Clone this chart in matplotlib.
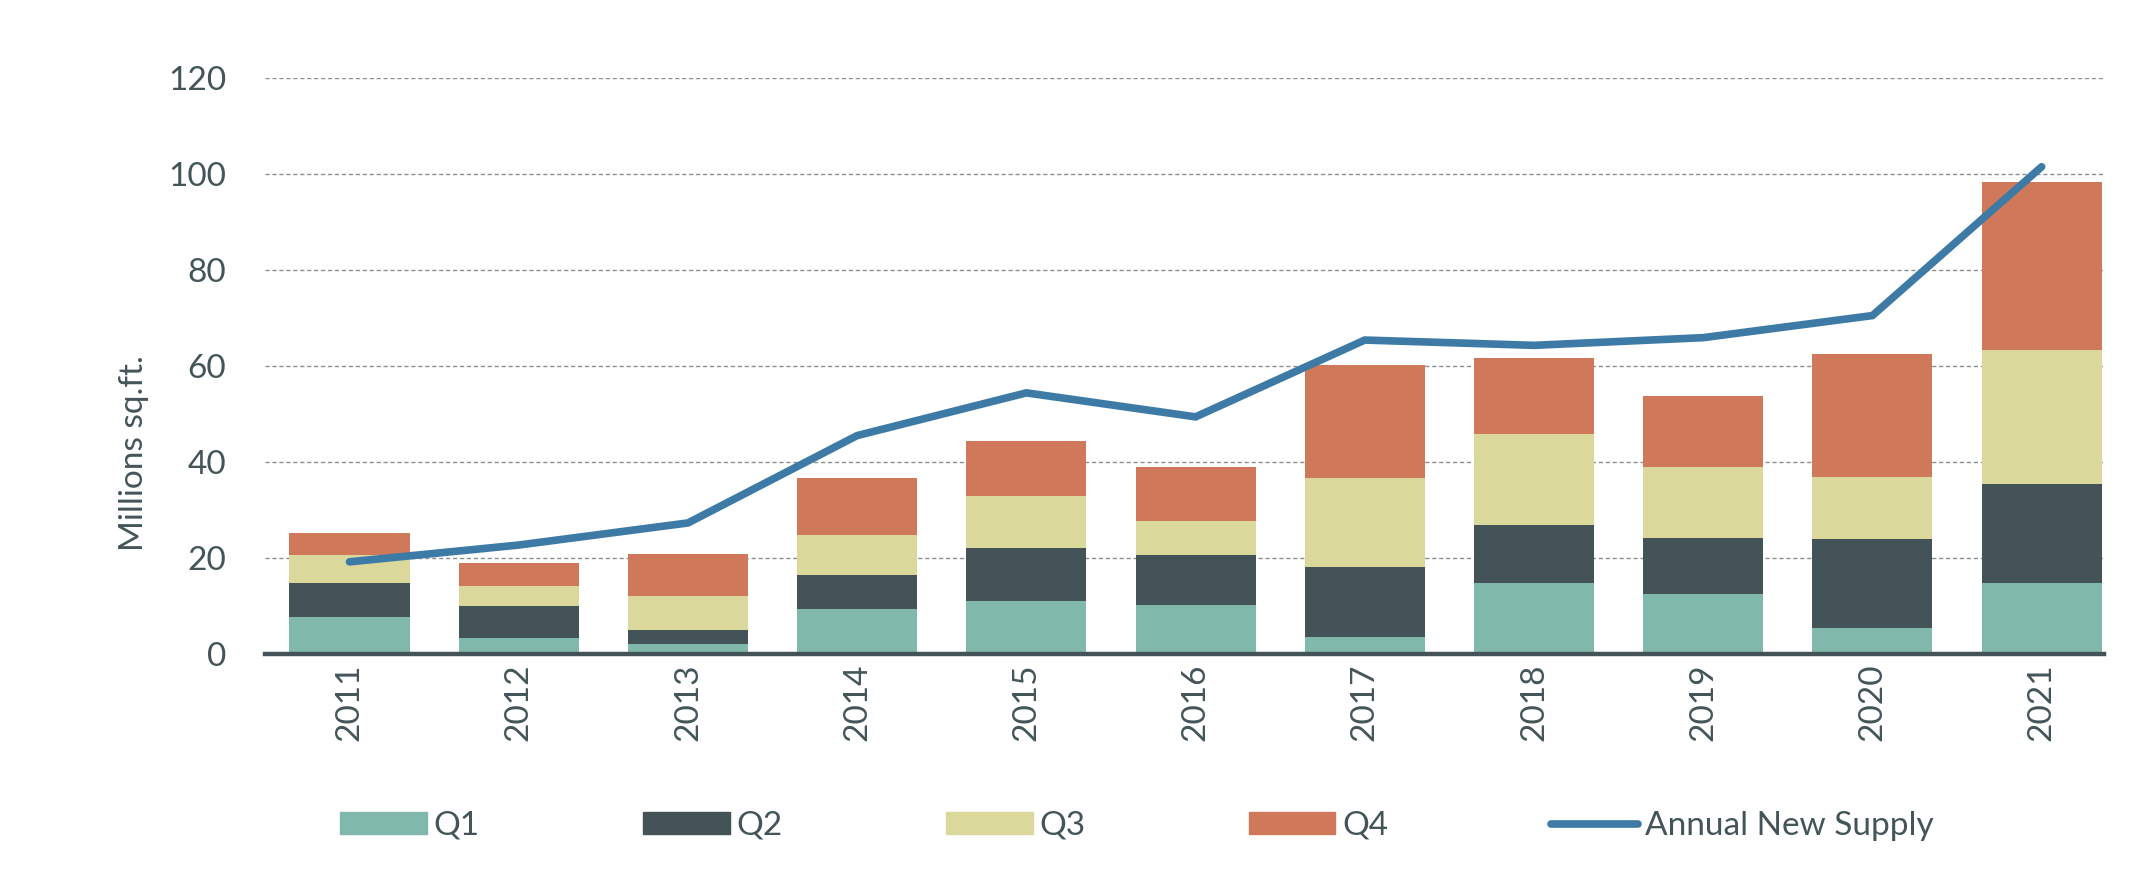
import numpy as np
import matplotlib.pyplot as plt
from matplotlib.patches import Patch
from matplotlib.lines import Line2D

plt.rcParams['font.family'] = ['Lato', 'DejaVu Sans']

years = ['2011', '2012', '2013', '2014', '2015', '2016', '2017', '2018', '2019', '2020', '2021']
# cumulative tops (Millions sq.ft.)
q1_top = [7.7, 3.3, 2.1, 9.3, 11.1, 10.3, 3.6, 14.8, 12.4, 5.5, 14.8]
q2_top = [14.8, 9.9, 5.0, 16.4, 22.0, 20.6, 18.2, 26.8, 24.1, 23.9, 35.5]
q3_top = [20.6, 14.1, 12.1, 24.7, 33.0, 27.7, 36.7, 45.9, 39.0, 36.8, 63.3]
q4_top = [25.2, 18.9, 20.8, 36.7, 44.3, 39.0, 60.3, 61.7, 53.8, 62.4, 98.3]
supply = [19.2, 22.7, 27.3, 45.5, 54.4, 49.4, 65.4, 64.3, 65.9, 70.5, 101.5]

q1 = np.array(q1_top)
q2 = np.array(q2_top) - np.array(q1_top)
q3 = np.array(q3_top) - np.array(q2_top)
q4 = np.array(q4_top) - np.array(q3_top)

c1, c2, c3, c4 = '#80b9ab', '#435357', '#dad89b', '#d0785a'
cline = '#3d7ba6'
txt = '#44555a'
fs = 24

fig = plt.figure(figsize=(21.45, 8.72), dpi=100)
ax = fig.add_axes([0.1235, 0.25, 0.8575, 0.6606])

x = np.arange(len(years))
w = 0.71
ax.bar(x, q1, w, color=c1, zorder=2)
ax.bar(x, q2, w, bottom=q1, color=c2, zorder=2)
ax.bar(x, q3, w, bottom=q1 + q2, color=c3, zorder=2)
ax.bar(x, q4, w, bottom=q1 + q2 + q3, color=c4, zorder=2)
ax.plot(x, supply, color=cline, lw=5.5, solid_capstyle='round', solid_joinstyle='miter', zorder=3)

ax.set_xlim(-0.5, 10.37)
ax.set_ylim(0, 120)
ax.set_yticks(range(0, 121, 20))
ax.yaxis.grid(True, linestyle=(0, (3, 2)), color='#8a8f91', lw=1.0, zorder=0)
ax.set_axisbelow(True)

for s in ['top', 'right', 'left']:
    ax.spines[s].set_visible(False)
ax.spines['bottom'].set_color(c2)
ax.spines['bottom'].set_linewidth(3.2)
ax.spines['bottom'].set_zorder(4)

ax.set_xticks(x)
ax.set_xticklabels(years, rotation=90)
ax.tick_params(axis='both', length=0, labelsize=fs, colors=txt)
ax.tick_params(axis='y', pad=28)
ax.tick_params(axis='x', pad=7)
ax.set_ylabel('Millions sq.ft.', fontsize=fs, color=txt)
ax.yaxis.set_label_coords(-0.063, 0.349)

handles = [Patch(color=c1), Patch(color=c2), Patch(color=c3), Patch(color=c4),
           Line2D([], [], color=cline, lw=5.5, solid_capstyle='round')]
labels = ['Q1', 'Q2', 'Q3', 'Q4', 'Annual New Supply']
fig.legend(handles, labels, loc='center', bbox_to_anchor=(0.530, 0.053), ncol=5,
           frameon=False, fontsize=fs, labelcolor=txt, handlelength=2.6,
           handleheight=0.6, handletextpad=0.2, columnspacing=4.9)

fig.savefig('out.png', dpi=100)
